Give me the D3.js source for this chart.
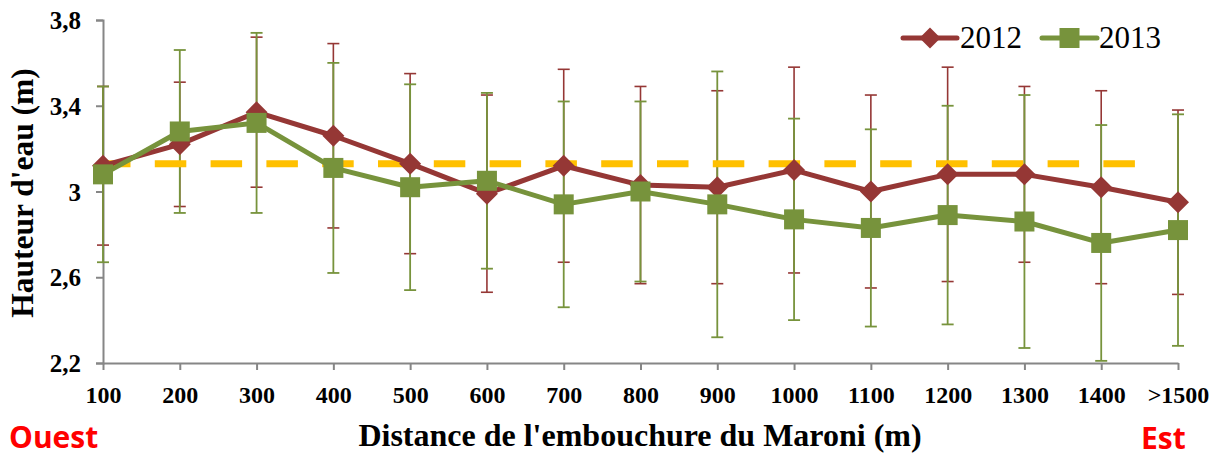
<!DOCTYPE html>
<html>
<head>
<meta charset="utf-8">
<script src="https://cdn.jsdelivr.net/npm/d3@7"></script>
<style>
  html, body { margin: 0; padding: 0; background: #fff; }
  svg { display: block; }
</style>
</head>
<body>
<svg id="chart" width="1216" height="457"></svg>
<script>
// ---- data ----
const categories = ["100","200","300","400","500","600","700","800","900","1000","1100","1200","1300","1400",">1500"];
const mean2012 = [3.12, 3.22, 3.37, 3.26, 3.13, 2.99, 3.12, 3.03, 3.02, 3.10, 3.00, 3.08, 3.08, 3.02, 2.95];
const err2012  = [0.37, 0.29, 0.35, 0.43, 0.42, 0.46, 0.45, 0.46, 0.45, 0.48, 0.45, 0.50, 0.41, 0.45, 0.43];
const mean2013 = [3.08, 3.28, 3.32, 3.11, 3.02, 3.05, 2.94, 3.00, 2.94, 2.87, 2.83, 2.89, 2.86, 2.76, 2.82];
const err2013  = [0.41, 0.38, 0.42, 0.49, 0.48, 0.41, 0.48, 0.42, 0.62, 0.47, 0.46, 0.51, 0.59, 0.55, 0.54];
const referenceLevel = 3.13;
const yTicks = [2.2, 2.6, 3.0, 3.4, 3.8];
const yTickLabels = ["2,2", "2,6", "3", "3,4", "3,8"];
const seriesNames = ["2012", "2013"];

// ---- layout ----
const svg = d3.select("#chart");
const x = d3.scalePoint().domain(categories).range([103, 1178]);
const y = d3.scaleLinear().domain([2.2, 3.8]).range([363, 20]);

const red = "#953735", green = "#77933C", axisGray = "#868686";
const serif = "'Liberation Serif', 'Times New Roman', serif";

// axes
const yAxis = d3.axisLeft(y).tickValues(yTicks)
  .tickFormat((d, i) => yTickLabels[i]).tickSize(7).tickPadding(15);
const gy = svg.append("g").attr("transform", "translate(103,0)").call(yAxis);
gy.select(".domain").attr("stroke", axisGray).attr("stroke-width", 2);
gy.selectAll(".tick line").attr("stroke", axisGray).attr("stroke-width", 2);
gy.selectAll(".tick text").attr("font-family", serif).attr("font-weight", "bold")
  .attr("font-size", 25).attr("fill", "#000").attr("dy", "0.34em");

const xAxis = d3.axisBottom(x).tickSize(7).tickSizeOuter(0).tickPadding(16);
const gx = svg.append("g").attr("transform", "translate(0,363)").call(xAxis);
gx.select(".domain").attr("stroke", axisGray).attr("stroke-width", 2);
gx.selectAll(".tick line").attr("stroke", axisGray).attr("stroke-width", 2);
gx.selectAll(".tick text").attr("font-family", serif).attr("font-weight", "bold")
  .attr("font-size", 24).attr("fill", "#000").attr("dy", "0.71em");

// error bars
function errorBars(means, errs, color, width) {
  const g = svg.append("g").attr("stroke", color).attr("stroke-width", width).attr("fill", "none");
  categories.forEach((c, i) => {
    const cx = x(c), top = y(means[i] + errs[i]), bot = y(means[i] - errs[i]);
    g.append("line").attr("x1", cx).attr("x2", cx).attr("y1", top).attr("y2", bot);
    g.append("line").attr("x1", cx - 6).attr("x2", cx + 6).attr("y1", top).attr("y2", top);
    g.append("line").attr("x1", cx - 6).attr("x2", cx + 6).attr("y1", bot).attr("y2", bot);
  });
}
errorBars(mean2012, err2012, red, 1.6);
errorBars(mean2013, err2013, green, 1.8);

// reference dashed line
svg.append("line")
  .attr("x1", x(categories[0]) - 4)
  .attr("x2", x(categories[13]) + 35)
  .attr("y1", y(referenceLevel)).attr("y2", y(referenceLevel))
  .attr("stroke", "#FFC000").attr("stroke-width", 7)
  .attr("stroke-dasharray", "31.5 24.3");

// series lines
const line = d3.line().x((d, i) => x(categories[i])).y(d => y(d));

function series(means, color, kind) {
  svg.append("path").datum(means).attr("d", line)
    .attr("fill", "none").attr("stroke", color).attr("stroke-width", 5)
    .attr("stroke-linejoin", "round");
  const g = svg.append("g").attr("fill", color);
  means.forEach((v, i) => {
    const cx = x(categories[i]), cy = y(v);
    if (kind === "diamond") {
      g.append("path").attr("d", "M0,-11L11,0L0,11L-11,0Z")
        .attr("transform", `translate(${cx},${cy})`);
    } else {
      g.append("rect").attr("x", cx - 10).attr("y", cy - 10).attr("width", 20).attr("height", 20);
    }
  });
}
series(mean2012, red, "diamond");
series(mean2013, green, "square");

// legend
const legend = svg.append("g");
const legendItems = [
  { name: seriesNames[0], color: red, kind: "diamond", x0: 903, x1: 957, tx: 960 },
  { name: seriesNames[1], color: green, kind: "square", x0: 1042, x1: 1097, tx: 1099 }
];
legendItems.forEach(it => {
  const ly = 38;
  legend.append("line").attr("x1", it.x0).attr("x2", it.x1).attr("y1", ly).attr("y2", ly)
    .attr("stroke", it.color).attr("stroke-width", 5).attr("stroke-linecap", "round");
  const mx = (it.x0 + it.x1) / 2;
  if (it.kind === "diamond") {
    legend.append("path").attr("d", "M0,-10.5L10.5,0L0,10.5L-10.5,0Z")
      .attr("transform", `translate(${mx},${ly})`).attr("fill", it.color);
  } else {
    legend.append("rect").attr("x", mx - 10).attr("y", ly - 10).attr("width", 20).attr("height", 20)
      .attr("fill", it.color);
  }
  legend.append("text").attr("x", it.tx).attr("y", 48).text(it.name)
    .attr("font-family", serif).attr("font-size", 31).attr("fill", "#000");
});

// axis titles
svg.append("text").attr("transform", "translate(33,193) rotate(-90)")
  .attr("text-anchor", "middle").attr("font-family", serif).attr("font-weight", "bold")
  .attr("font-size", 31.5).attr("fill", "#000").text("Hauteur d'eau (m)");

svg.append("text").attr("x", 640).attr("y", 446).attr("text-anchor", "middle")
  .attr("font-family", serif).attr("font-weight", "bold")
  .attr("font-size", 32).attr("fill", "#000").text("Distance de l'embouchure du Maroni (m)");

// direction labels
svg.append("text").attr("x", 9).attr("y", 448)
  .attr("font-family", "'Open Sans', 'Liberation Sans', sans-serif").attr("font-weight", "bold")
  .attr("font-size", 30).attr("fill", "#FF0000").text("Ouest");
svg.append("text").attr("x", 1141).attr("y", 449)
  .attr("font-family", "'Open Sans', 'Liberation Sans', sans-serif").attr("font-weight", "bold")
  .attr("font-size", 30).attr("fill", "#FF0000").text("Est");
</script>
</body>
</html>
